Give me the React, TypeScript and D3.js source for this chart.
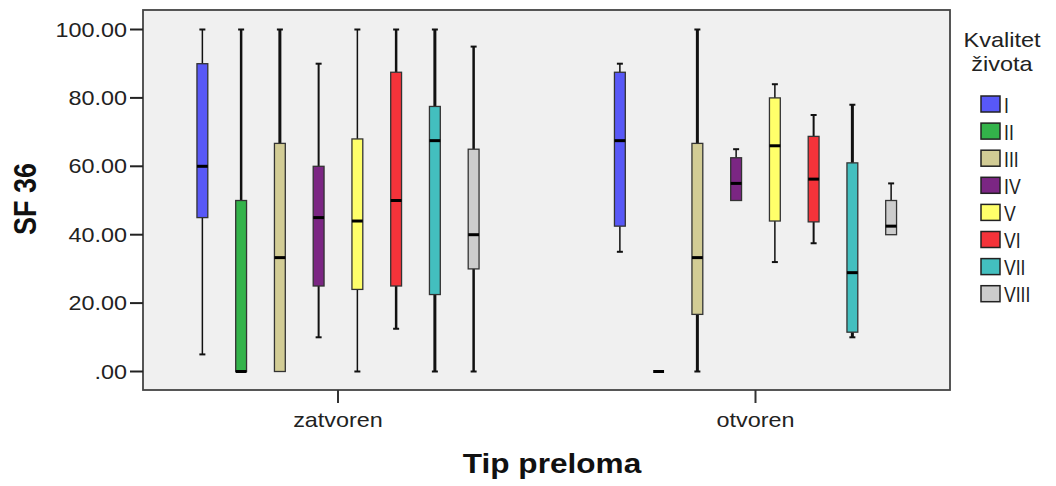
import React from "react";
import * as d3 from "d3";

// ---- data ----
const groups = ["zatvoren", "otvoren"];
const levels = ["I", "II", "III", "IV", "V", "VI", "VII", "VIII"];
const levelColors = ["#5858f7", "#33b34a", "#d2cc95", "#7b2683", "#ffff6a", "#f4333a", "#43bfbf", "#cccccc"];
// [min, q1, median, q3, max]
const zatvorenStats: number[][] = [
  [5, 45, 60, 90, 100],
  [0, 0, 0, 50, 100],
  [0, 0, 33.3, 66.7, 100],
  [10, 25, 45, 60, 90],
  [0, 24, 44, 68, 100],
  [12.5, 25, 50, 87.5, 100],
  [0, 22.5, 67.5, 77.5, 100],
  [0, 30, 40, 65, 95],
];
const otvorenStats: number[][] = [
  [35, 42.5, 67.5, 87.5, 90],
  [0, 0, 0, 0, 0],
  [0, 16.7, 33.3, 66.7, 100],
  [50, 50, 55, 62.5, 65],
  [32, 44, 66, 80, 84],
  [37.5, 43.75, 56.25, 68.75, 75],
  [10, 11.5, 28.9, 61, 78],
  [40, 40, 42.5, 50, 55],
];
const yTicks = [0, 20, 40, 60, 80, 100];
// whisker stroke widths (style)
const zatvorenWhisker = [1.5, 2.5, 3, 2, 1.5, 2.5, 3, 2.5];
const otvorenWhisker = [1.5, 2, 3, 1.5, 1.5, 2, 3, 1.5];

const W = 1056, H = 486;
const frame = { left: 143, right: 950, top: 10, bottom: 390 };
const SX = 1.17;

export default function App() {
  const y = d3.scaleLinear().domain([0, 100]).range([371.5, 29.5]);
  const xg = d3.scalePoint<string>().domain(groups).range([338, 755.5]);
  const inner = d3.scaleBand<string>().domain(levels).range([-155, 155]).paddingInner(0.72).paddingOuter(0.36);
  const bw = inner.bandwidth();
  const fmt = (v: number) => d3.format(".2f")(v).replace(/^0\./, ".");
  const statsByGroup = [zatvorenStats, otvorenStats];
  const whiskByGroup = [zatvorenWhisker, otvorenWhisker];
  const capW = 6;

  return (
    <svg width={W} height={H} style={{ position: "absolute", left: 0, top: 0 }} fontFamily="Arial, 'Liberation Sans', sans-serif">
      <rect x={0} y={0} width={W} height={H} fill="#fff" />
      <rect x={frame.left} y={frame.top} width={frame.right - frame.left} height={frame.bottom - frame.top} fill="#f0f0f0" stroke="#444" strokeWidth={1.8} />
      {/* y axis ticks */}
      {yTicks.map((t) => (
        <g key={t}>
          <line x1={130} x2={frame.left} y1={y(t)} y2={y(t)} stroke="#222" strokeWidth={2} />
          <text transform={`translate(127,${y(t) + 7}) scale(${SX},1)`} textAnchor="end" fontSize={20} fill="#222">{fmt(t)}</text>
        </g>
      ))}
      {/* x axis ticks */}
      {groups.map((g) => (
        <g key={g}>
          <line x1={xg(g)} x2={xg(g)} y1={frame.bottom} y2={403} stroke="#333" strokeWidth={2} />
          <text transform={`translate(${xg(g)},427) scale(${SX},1)`} textAnchor="middle" fontSize={20} fill="#222">{g}</text>
        </g>
      ))}
      {/* axis titles */}
      <text transform={`translate(36,199) scale(${SX},1) rotate(-90)`} textAnchor="middle" fontSize={27} fontWeight="bold" fill="#111">SF 36</text>
      <text transform={`translate(552,473) scale(${SX},1)`} textAnchor="middle" fontSize={27} fontWeight="bold" fill="#111">Tip preloma</text>
      {/* boxes */}
      {groups.map((g, gi) =>
        statsByGroup[gi].map((s, li) => {
          const cx = (xg(g) as number) + (inner(levels[li]) as number) + bw / 2;
          const [mn, q1, md, q3, mx] = s;
          const sw = whiskByGroup[gi][li];
          return (
            <g key={g + li}>
              {mx > q3 && (
                <g>
                  <line x1={cx} x2={cx} y1={y(mx)} y2={y(q3)} stroke="#111" strokeWidth={sw} />
                  <line x1={cx - capW / 2} x2={cx + capW / 2} y1={y(mx)} y2={y(mx)} stroke="#111" strokeWidth={2} />
                </g>
              )}
              {mn < q1 && (
                <g>
                  <line x1={cx} x2={cx} y1={y(q1)} y2={y(mn)} stroke="#111" strokeWidth={sw} />
                  <line x1={cx - capW / 2} x2={cx + capW / 2} y1={y(mn)} y2={y(mn)} stroke="#111" strokeWidth={2} />
                </g>
              )}
              <rect x={cx - bw / 2} y={y(q3)} width={bw} height={y(q1) - y(q3)} fill={levelColors[li]} stroke="#333" strokeWidth={1.3} />
              <line x1={cx - bw / 2} x2={cx + bw / 2} y1={y(md)} y2={y(md)} stroke="#000" strokeWidth={3} />
            </g>
          );
        })
      )}
      {/* legend */}
      <text transform={`translate(1002,47) scale(1.12,1)`} textAnchor="middle" fontSize={21} fill="#222">Kvalitet</text>
      <text transform={`translate(1002,71) scale(1.12,1)`} textAnchor="middle" fontSize={21} fill="#222">života</text>
      {levels.map((l, i) => {
        const ly = 96 + i * 27.1;
        return (
          <g key={l}>
            <rect x={981} y={ly} width={19} height={16} fill={levelColors[i]} stroke="#222" strokeWidth={1.5} />
            <text transform={`translate(1004,${ly + 16.5}) scale(0.8,1)`} fontSize={22} fill="#222">{l}</text>
          </g>
        );
      })}
    </svg>
  );
}
